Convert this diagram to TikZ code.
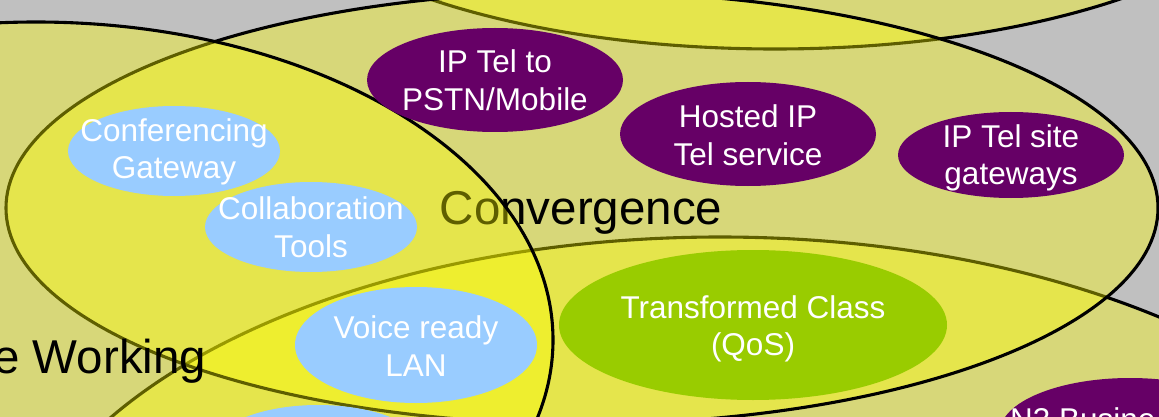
\documentclass[tikz,border=0pt]{standalone}
\usepackage{fontspec}
\setmainfont{Liberation Sans}

\definecolor{bggray}{HTML}{C0C0C0}
\definecolor{setyellow}{HTML}{FFFF00}
\definecolor{telpurple}{HTML}{660066}
\definecolor{lanblue}{HTML}{99CCFF}
\definecolor{qosgreen}{HTML}{99CC00}

\tikzset{
  setring/.style={draw=black, line width=3.1pt, fill=setyellow, fill opacity=0.37, draw opacity=1},
  blobtext/.style={align=center, text=white, inner sep=0pt, font=\fontsize{31.5}{37.5}\selectfont},
  settext/.style={inner sep=0pt, font=\fontsize{47.5}{52}\selectfont},
}

\begin{document}
\begin{tikzpicture}[x=1pt, y=-1pt]
\useasboundingbox (0,0) rectangle (1159,417);
\clip (0,0) rectangle (1159,417);
\fill[bggray] (0,0) rectangle (1159,417);

% sets, back to front
\draw[setring] (775,-151) ellipse [x radius=522pt, y radius=200pt];% top set
\draw[setring] (720,619) ellipse [x radius=717pt, y radius=382pt];% lower set
\draw[setring] (582,208) ellipse [x radius=576pt, y radius=216pt];% convergence
\node[settext, anchor=base] (convergence) at (581,224) {Convergence};
\draw[setring] (36,340) ellipse [x radius=517pt, y radius=318pt];% working
\node[settext, anchor=base west] (working) at (-7,373) {e Working};

% IP telephony
\fill[telpurple] (495,80) ellipse [x radius=128pt, y radius=52pt];
\node[blobtext] (iptelpstn) at (495,80) {IP Tel to\\PSTN/Mobile};
\fill[telpurple] (748,134) ellipse [x radius=128pt, y radius=52pt];
\node[blobtext] (hostedip) at (748,135) {Hosted IP\\Tel service};
\fill[telpurple] (1011,155) ellipse [x radius=113pt, y radius=43pt];
\node[blobtext] (sitegw) at (1011,158) {IP Tel site\\gateways};
\fill[telpurple] (1130,432) ellipse [x radius=130pt, y radius=54pt];
\node[blobtext, anchor=base west] (nthree) at (1010,430) {N3 Busine};

% LAN / collaboration
\fill[lanblue] (174,151) ellipse [x radius=106pt, y radius=45pt];
\node[blobtext] (confgw) at (174,152) {Conferencing\\Gateway};
\fill[lanblue] (311,227) ellipse [x radius=106pt, y radius=45pt];
\node[blobtext] (collab) at (311,227) {Collaboration\\Tools};
\fill[lanblue] (416,345) ellipse [x radius=121pt, y radius=58pt];
\node[blobtext] (voicelan) at (416,346) {Voice ready\\LAN};
\fill[lanblue] (318,450) ellipse [x radius=106pt, y radius=45pt];

% QoS
\fill[qosgreen] (753,325) ellipse [x radius=194pt, y radius=75pt];
\node[blobtext] (qos) at (753,329) {Transformed Class\\(QoS)};
\end{tikzpicture}
\end{document}
